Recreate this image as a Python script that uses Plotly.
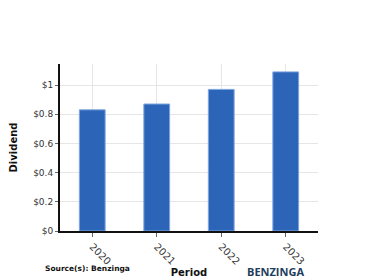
import plotly.graph_objects as go

periods = ["2020", "2021", "2022", "2023"]
dividends = [0.83, 0.87, 0.97, 1.09]
ytick_vals = [0, 0.2, 0.4, 0.6, 0.8, 1.0]
ytick_text = ["$0", "$0.2", "$0.4", "$0.6", "$0.8", "$1"]

fig = go.Figure(go.Bar(
    x=periods, y=dividends,
    marker=dict(color="#2c64b8", line=dict(color="#7ea6e0", width=1)),
))

fig.update_layout(
    width=380, height=280,
    margin=dict(l=60, r=62, t=64, b=49),
    paper_bgcolor="white", plot_bgcolor="white",
    bargap=0.6,
    showlegend=False,
    font=dict(family="DejaVu Sans", size=9, color="#333"),
    xaxis=dict(
        type="category", tickangle=45, showgrid=True, gridcolor="#e6e6e6",
        showline=True, linecolor="#111", linewidth=2, automargin=False,
        ticks="outside", ticklen=4, tickcolor="#666",
        tickfont=dict(size=10, color="#333"),
        title=dict(text="<b>Period</b>", font=dict(size=10, color="#111"), standoff=3),
    ),
    yaxis=dict(
        range=[0, 1.144], tickvals=ytick_vals, ticktext=ytick_text,
        showgrid=True, gridcolor="#e6e6e6", automargin=False,
        showline=True, linecolor="#111", linewidth=2,
        ticks="outside", ticklen=3, tickcolor="#666",
        tickfont=dict(size=9, color="#333"),
        title=dict(text="<b>Dividend</b>", font=dict(size=10, color="#111"), standoff=14),
        zeroline=False,
    ),
)

fig.add_annotation(text="<b>Source(s): Benzinga</b>", xref="paper", yref="paper",
                   x=-0.066, y=-0.225, xanchor="left", yanchor="middle", showarrow=False,
                   font=dict(size=7.5, color="#111"))
fig.add_annotation(text="<b>BENZINGA</b>", xref="paper", yref="paper",
                   x=0.955, y=-0.24, xanchor="right", yanchor="middle", showarrow=False,
                   font=dict(size=11, color="#1e3d5c", family="Open Sans"))

fig.write_html("out.html")
